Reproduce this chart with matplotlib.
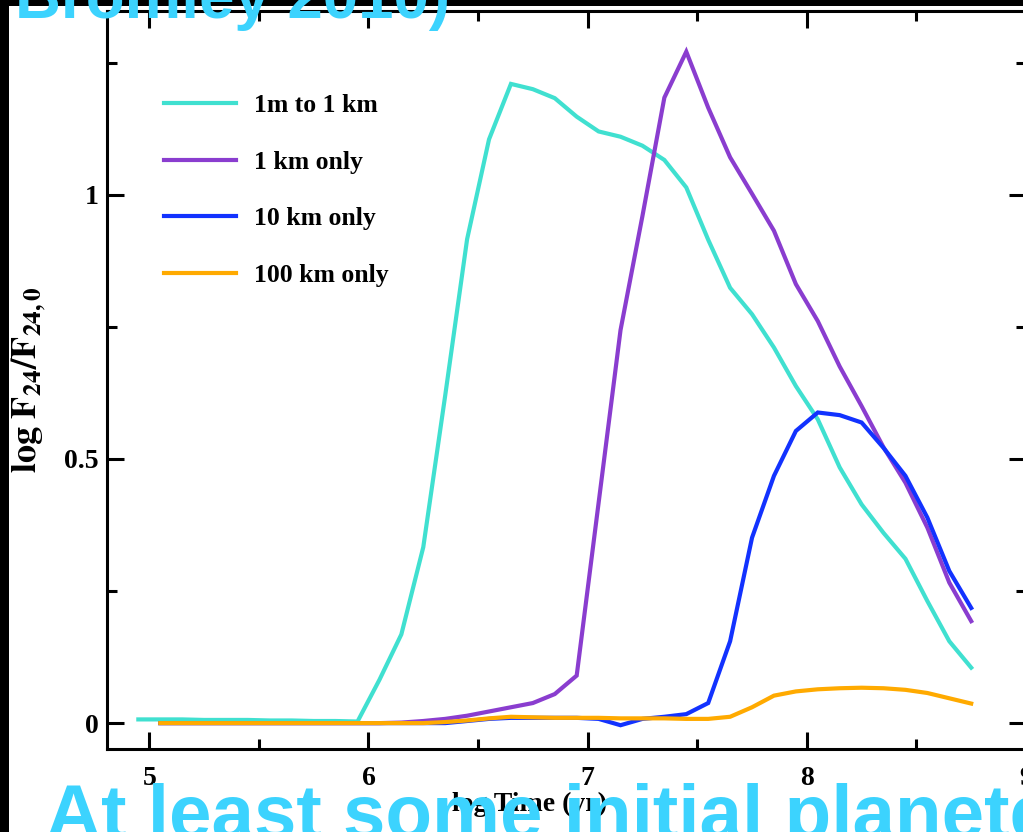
import numpy as np
import matplotlib
matplotlib.use("Agg")
import matplotlib.pyplot as plt
from matplotlib.patches import Rectangle
from matplotlib.ticker import MultipleLocator

plt.rcParams['mathtext.fontset'] = 'stix'

# ---------------- data ----------------
time_cyan = np.round(np.arange(4.95, 8.80, 0.1), 2)   # 39 points
time_other = np.round(np.arange(5.05, 8.80, 0.1), 2)  # 38 points

cyan_1m_1km = [0.007, 0.007, 0.007, 0.006, 0.006, 0.006, 0.005, 0.005, 0.004, 0.004,
               0.003, 0.082, 0.168, 0.333, 0.620, 0.916, 1.105, 1.210, 1.200, 1.183,
               1.148, 1.120, 1.110, 1.093, 1.066, 1.014, 0.915, 0.824, 0.774, 0.711,
               0.638, 0.575, 0.484, 0.414, 0.360, 0.311, 0.231, 0.155, 0.105]

purple_1km = [0.0, 0.0, 0.0, 0.0, 0.0, 0.0, 0.0, 0.0, 0.0, 0.0,
              0.0, 0.001, 0.004, 0.008, 0.014, 0.022, 0.030, 0.038, 0.055, 0.090,
              0.417, 0.744, 0.960, 1.184, 1.271, 1.165, 1.071, 1.002, 0.932, 0.831,
              0.761, 0.675, 0.600, 0.522, 0.455, 0.370, 0.266, 0.193]

blue_10km = [0.0, 0.0, 0.0, 0.0, 0.0, 0.0, 0.0, 0.0, 0.0, 0.0,
             0.0, 0.0, 0.0, 0.0, 0.004, 0.008, 0.010, 0.010, 0.010, 0.010,
             0.008, -0.004, 0.008, 0.012, 0.017, 0.038, 0.155, 0.351, 0.468, 0.553,
             0.588, 0.583, 0.569, 0.521, 0.468, 0.389, 0.288, 0.218]

orange_100km = [0.0, 0.0, 0.0, 0.0, 0.0, 0.0, 0.0, 0.0, 0.0, 0.0,
                0.0, 0.0, 0.0, 0.002, 0.005, 0.009, 0.012, 0.011, 0.010, 0.010,
                0.010, 0.009, 0.009, 0.009, 0.008, 0.008, 0.012, 0.030, 0.052, 0.060,
                0.064, 0.066, 0.067, 0.066, 0.063, 0.057, 0.047, 0.037]

labels = ["1m to 1 km", "1 km only", "10 km only", "100 km only"]
colors = ["#40E0D0", "#8A3DCF", "#1232FF", "#FFAA00"]

xticks = [5, 6, 7, 8, 9]
yticks = [0, 0.5, 1]
yticklabels = ["0", "0.5", "1"]

# ---------------- figure ----------------
W, H = 1023, 832
fig = plt.figure(figsize=(W / 100, H / 100), dpi=100, facecolor="white")

# slide remnants: black borders
fig.patches.append(Rectangle((0, 0), 9 / W, 1, transform=fig.transFigure,
                             facecolor="black", edgecolor="none", zorder=0))
fig.patches.append(Rectangle((0, 1 - 6 / H), 1, 6 / H, transform=fig.transFigure,
                             facecolor="black", edgecolor="none", zorder=0))

ax_l, ax_r, ax_t, ax_b = 107, 1026, 11, 749
ax = fig.add_axes([ax_l / W, (H - ax_b) / H, (ax_r - ax_l) / W, (ax_b - ax_t) / H])
ax.set_facecolor("none")

series = [(time_cyan, cyan_1m_1km), (time_other, purple_1km),
          (time_other, blue_10km), (time_other, orange_100km)]
for (tx, ty), lab, c in zip(series, labels, colors):
    ax.plot(tx, ty, color=c, lw=3.0, label=lab, solid_joinstyle="miter")

ax.set_xlim(4.807, 9.0)
ax.set_ylim(-0.049, 1.348)

ax.set_xticks(xticks)
ax.set_yticks(yticks)
ax.set_yticklabels(yticklabels)
ax.xaxis.set_minor_locator(MultipleLocator(0.5))
ax.yaxis.set_minor_locator(MultipleLocator(0.25))

for lab in ax.get_xticklabels() + ax.get_yticklabels():
    lab.set_fontfamily("Liberation Serif")
    lab.set_fontweight("bold")
    lab.set_fontsize(20)

ax.tick_params(which="both", direction="in", top=True, right=True, width=2.2, color="black")
ax.tick_params(which="major", length=12)
ax.tick_params(which="minor", length=7)
ax.tick_params(axis="x", which="major", pad=12)
ax.tick_params(axis="y", which="major", pad=6)
for sp in ax.spines.values():
    sp.set_linewidth(2.2)
    sp.set_color("black")
ax.spines["right"].set_linewidth(1.0)
ax.spines["right"].set_color("#bbbbbb")

ax.set_ylabel(r"$\mathbf{log\ F_{24}/F_{24,0}}$", fontsize=26)
ax.yaxis.set_label_coords(-0.064, 0.5)
ax.set_xlabel("log Time (yr)", fontfamily="Liberation Serif", fontweight="bold", fontsize=20)
ax.xaxis.set_label_coords(0.46, -0.058)

leg = ax.legend(loc="upper left", bbox_to_anchor=(0.062, 0.887), frameon=False,
                handlelength=2.8, handletextpad=0.7, labelspacing=1.3,
                borderpad=0, borderaxespad=0,
                prop=dict(family="Liberation Serif", weight="bold", size=18.5))

# slide overlay texts
cyan_txt = "#3CD3FE"
fig.text(15 / W, (H - 18) / H, "Bromley 2010)", color=cyan_txt, fontsize=45.8,
         fontfamily="Liberation Sans", fontweight="bold", va="baseline", ha="left", zorder=10)
fig.text(46 / W, (H - 838) / H, "At least some initial planete", color=cyan_txt, fontsize=55,
         fontfamily="Liberation Sans", fontweight="bold", va="baseline", ha="left", zorder=10)

fig.savefig("out.png", dpi=100, facecolor="white")
